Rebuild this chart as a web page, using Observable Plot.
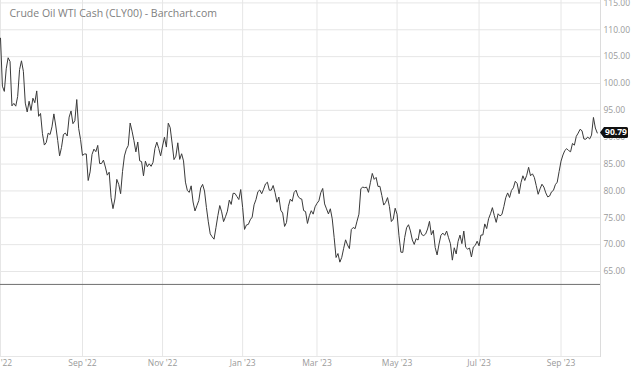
<!DOCTYPE html>
<html><head><meta charset="utf-8">
<script src="https://cdn.jsdelivr.net/npm/d3@7"></script>
<script src="https://cdn.jsdelivr.net/npm/@observablehq/plot@0.6"></script>
<style>
html,body{margin:0;padding:0;background:#fff;}
#chart{position:relative;width:640px;height:372px;overflow:hidden;}
#chart svg{display:block;}
</style></head><body><div id="chart"></div>
<script>
const title = "Crude Oil WTI Cash (CLY00) - Barchart.com";
const months = ["Jul '22","Aug '22","Sep '22","Oct '22","Nov '22","Dec '22","Jan '23","Feb '23","Mar '23","Apr '23","May '23","Jun '23","Jul '23","Aug '23","Sep '23"];

// daily closes per month (trading days)
const jul22 = [108.43,99.50,98.53,102.73,104.79,104.09,95.84,96.30,95.78,97.59,102.60,104.22,102.26,96.35,94.70,96.70,94.98,97.26,96.42,98.62];
const aug22 = [93.89,94.42,90.66,88.54,89.01,90.76,90.50,91.93,94.34,92.09,89.41,86.53,88.11,90.50,90.77,90.23,93.74,94.89,92.52,93.06,97.01,91.64,89.55];
const sep22 = [86.61,86.87,86.88,81.94,83.54,86.79,87.78,87.31,88.48,85.10,85.11,85.73,84.45,82.94,83.49,78.74,76.71,78.50,82.15,81.23,79.49];
const oct22 = [83.63,86.52,87.76,88.45,92.64,91.13,89.35,87.27,89.11,85.61,85.46,82.82,85.55,84.51,85.05,84.58,85.32,87.91,89.08,87.90,86.53];
const nov22 = [88.37,90.00,88.17,92.61,91.79,88.91,85.83,86.47,88.96,85.87,86.92,85.59,81.64,80.08,79.73,80.95,77.94,76.28,77.24,78.20,80.55];
const dec22 = [81.22,79.98,76.93,74.25,72.01,71.46,71.02,73.17,75.39,77.28,76.11,74.29,75.19,76.23,78.29,77.49,79.56,79.53,78.96,78.40,80.26];
const jan23 = [76.93,72.84,73.67,73.77,74.63,75.12,77.41,78.39,79.86,80.18,79.48,80.33,81.31,81.62,80.13,80.15,81.01,79.68,77.90,78.87];
const feb23 = [76.41,75.88,73.39,74.11,77.14,78.47,78.06,79.72,80.14,79.06,78.59,78.49,76.34,76.16,73.95,75.39,76.32,75.68,77.05];
const mar23 = [77.69,78.16,79.68,80.46,77.58,76.66,75.72,76.68,74.80,71.33,67.61,68.35,66.74,67.64,69.33,70.90,69.96,69.26,72.81,73.20,72.97,74.37,75.67];
const apr23 = [80.42,80.71,80.61,80.70,79.74,81.53,83.26,82.16,82.52,80.83,80.86,79.16,77.37,77.87,78.76,77.07,74.30,74.76,76.78];
const may23 = [75.66,71.66,68.60,68.56,71.34,73.16,73.71,72.56,70.87,70.04,71.11,70.86,72.83,71.86,71.69,71.99,72.91,74.34,71.83,72.67,69.46,68.09];
const jun23 = [70.10,71.74,72.15,71.74,72.53,71.29,70.17,67.12,69.42,68.27,70.62,71.78,70.19,72.53,69.51,69.16,69.37,67.70,69.56,69.86,70.64];
const jul23 = [69.79,71.79,71.80,73.86,72.99,74.83,75.75,76.89,75.42,74.15,75.75,75.35,75.63,77.07,78.74,79.63,78.78,80.09,80.58,81.80];
const aug23 = [81.37,79.49,81.55,82.82,81.94,82.92,84.40,82.82,83.19,82.51,80.99,79.38,80.39,81.25,80.72,79.64,78.89,79.05,79.83,80.10,81.16,81.63,83.63];
const sep23 = [85.55,86.69,87.54,87.87,87.51,87.29,88.84,88.52,90.16,90.77,91.48,91.20,89.66,89.63,90.03,89.68,90.39,93.68,91.71,90.79];
const closes = [jul22,aug22,sep22,oct22,nov22,dec22,jan23,feb23,mar23,apr23,may23,jun23,jul23,aug23,sep23];

const yTicks = [65,70,75,80,85,90,95,100,105,110,115];
const paneFloor = 62.6;            // lower edge of the price pane
const yDomain = [49.18, 115.45];

const data = [];
const monthStart = [];
closes.forEach(arr => { monthStart.push(data.length); arr.forEach(v => data.push({i: data.length, v})); });
const labeled = monthStart.filter((_, m) => m % 2 === 0);
const labelOf = new Map(monthStart.map((i, m) => [i, months[m]]));
const xDomain = [0, data.length + 0.7];
const last = data[data.length - 1].v;

const chart = Plot.plot({
  width: 640, height: 372,
  marginLeft: 0, marginRight: 40, marginTop: 0, marginBottom: 16,
  style: {fontFamily: "'Open Sans', sans-serif", fontSize: "8.5px", color: "#9a9a9a", background: "#fff", overflow: "hidden"},
  x: {domain: xDomain, ticks: labeled, tickFormat: i => labelOf.get(i), tickSize: 0, tickPadding: 3.5, label: null},
  y: {domain: yDomain, ticks: yTicks, tickFormat: d3.format(".2f"), tickSize: 0, tickPadding: 3, label: null, axis: "right"},
  marks: [
    Plot.ruleY(yTicks, {stroke: "#e6e6e6"}),
    Plot.ruleX(labeled, {stroke: "#e6e6e6"}),
    Plot.ruleY([yDomain[0]], {stroke: "#e6e6e6"}),
    Plot.ruleY([paneFloor], {stroke: "#6e6e6e"}),
    Plot.frame({anchor: "right", stroke: "#dcdcdc"}),
    Plot.lineY(data, {x: "i", y: "v", stroke: "#3a3a3a", strokeWidth: 1}),
    Plot.text([title], {text: d => d, frameAnchor: "top-left", dx: 9, dy: 13.5, textAnchor: "start", lineAnchor: "middle", fontSize: 10.5, fill: "#808080"})
  ]
});
document.getElementById("chart").appendChild(chart);

const svg = d3.select(chart.tagName.toLowerCase() === "svg" ? chart : chart.querySelector("svg"));
const yPx = chart.scale("y").apply(last);
const xPx = chart.scale("x").range[1];
const g = svg.append("g").attr("transform", `translate(${xPx},${yPx})`);
g.append("path").attr("d", "M0,0 L4,-5.5 H26.5 a1.5,1.5 0 0 1 1.5,1.5 V4 a1.5,1.5 0 0 1 -1.5,1.5 H4 Z").attr("fill", "#111");
g.append("text").attr("x", 16).attr("y", 0).attr("dy", "0.35em").attr("text-anchor", "middle")
  .attr("fill", "#fff").attr("font-weight", "bold").attr("font-size", "8.5px")
  .attr("font-family", "'Open Sans', sans-serif").text(d3.format(".2f")(last));
</script></body></html>
